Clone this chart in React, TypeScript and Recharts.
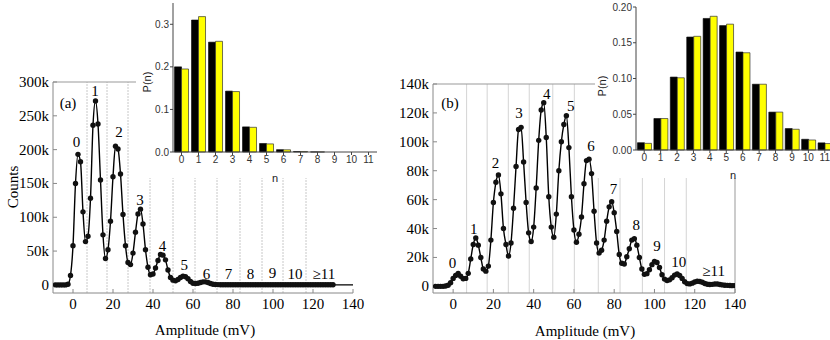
import React from 'react';
import { LineChart, Line, XAxis, YAxis, ReferenceLine, ReferenceDot, BarChart, Bar } from 'recharts';

const SERIF = '"Liberation Serif", "Times New Roman", serif';
const SANS = '"Liberation Sans", Arial, sans-serif';

// amplitude bins (mV), shared by both spectra
const amplitude = [
  -8.75, -7.5, -6.25, -5, -3.75, -2.5, -1.25, 0, 1.25, 2.5, 3.75, 5, 6.25, 7.5, 8.75, 10,
  11.25, 12.5, 13.75, 15, 16.25, 17.5, 18.75, 20, 21.25, 22.5, 23.75, 25, 26.25, 27.5, 28.75, 30,
  31.25, 32.5, 33.75, 35, 36.25, 37.5, 38.75, 40, 41.25, 42.5, 43.75, 45, 46.25, 47.5, 48.75, 50,
  51.25, 52.5, 53.75, 55, 56.25, 57.5, 58.75, 60, 61.25, 62.5, 63.75, 65, 66.25, 67.5, 68.75, 70,
  71.25, 72.5, 73.75, 75, 76.25, 77.5, 78.75, 80, 81.25, 82.5, 83.75, 85, 86.25, 87.5, 88.75, 90,
  91.25, 92.5, 93.75, 95, 96.25, 97.5, 98.75, 100, 101.25, 102.5, 103.75, 105, 106.25, 107.5, 108.75, 110,
  111.25, 112.5, 113.75, 115, 116.25, 117.5, 118.75, 120, 121.25, 122.5, 123.75, 125, 126.25, 127.5, 128.75, 130,
  131.25, 132.5, 133.75, 135, 136.25, 137.5, 138.75, 140,
];

// counts in thousands
const countsA = [
  0, 0, 0, 0, 0, 1, 14, 58, 150, 193, 182, 108, 64, 72, 128, 236,
  272, 238, 155, 74, 39, 52, 94, 160, 205, 201, 164, 104, 58, 33, 30, 47,
  78, 105, 112, 90, 52, 26, 15, 16, 25, 36, 45, 44, 37, 22, 11, 7,
  6, 8, 11, 13, 12, 9, 5, 2.5, 2, 2.5, 3.5, 4.5, 4.5, 3.5, 2, 1,
  0.6, 0.4, 0.3, 0.3, 0.3, 0.3, 0.3, 0.3, 0.3, 0.3, 0.3, 0.3, 0.2, 0.2, 0.2, 0.2,
  0.2, 0.2, 0.2, 0.2, 0.2, 0.2, 0.2, 0.2, 0.2, 0.2, 0.2, 0.2, 0.2, 0.2, 0.1, 0.1,
  0.1, 0.1, 0.1, 0.1, 0.1, 0.1, 0.1, 0.1, 0.1, 0.1, 0.1, 0.1, 0.1, 0.1, 0.1, 0.1,
  0, 0, 0, 0, 0, 0, 0, 0,
];

const countsB = [
  0, 0, 0, 0, 0.2, 0.8, 2.5, 5.5, 7.5, 9, 7, 5.3, 5.5, 9, 19, 29,
  33.5, 28.5, 20, 12, 10.5, 14, 32, 58, 72, 77, 64, 40, 29, 21, 30, 54,
  83, 108.5, 110, 86, 58, 37, 31, 41, 68, 101, 122, 127, 103, 62, 41, 34,
  50, 80, 100, 112, 118, 96, 62, 39, 30.5, 36, 48, 71, 87, 88, 78, 52,
  30, 23, 25, 32, 45, 55, 58.5, 51, 38, 22, 16, 15.5, 20.5, 26, 32, 33,
  28.5, 20, 12, 8.3, 8.8, 11.5, 15, 17.3, 16.5, 13, 8, 5, 4.1, 4.5, 6, 7.8,
  8.5, 7.5, 5.5, 3.2, 1.9, 1.7, 2.2, 3, 3.5, 3.4, 2.8, 2, 1.5, 1.3, 1.4, 1.6,
  1.6, 1.3, 1, 0.8, 0.7, 0.6, 0.5, 0.5,
];

const amplitudeTicks = [0, 20, 40, 60, 80, 100, 120, 140];
const countTicksA = [0, 50, 100, 150, 200, 250, 300];
const countTicksB = [0, 20, 40, 60, 80, 100, 120, 140];

// peak separation lines (mV)
const boundariesA = [7, 17, 27.5, 38.5, 50, 61, 72, 83.5, 94.5, 105, 116.5];
const boundariesB = [6.7, 16.9, 27.4, 37.8, 49.5, 60.2, 72.1, 82.9, 94, 105, 115.8];

const peakText = ['0', '1', '2', '3', '4', '5', '6', '7', '8', '9', '10', '≥11'];
const peakXA = [1.8, 11, 23, 33.5, 44.8, 55.6, 66.8, 77.7, 88.8, 99.8, 111, 125.4];
const peakYA = [212, 286, 226, 126, 57, 30, 16, 16, 16, 17, 16, 16];
const peakXB = [-0.3, 10.3, 21.1, 32.7, 46.5, 58.4, 68.5, 79.6, 90.9, 101.2, 112, 129.4];
const peakYB = [16.2, 39.6, 85.6, 119.7, 132.9, 124.8, 97.2, 67.3, 42.6, 27.6, 16.6, 10.4];

// photon number distributions
const photonN = ['0', '1', '2', '3', '4', '5', '6', '7', '8', '9', '10', '11'];
const pBlackA = [0.2, 0.31, 0.258, 0.143, 0.059, 0.02, 0.0055, 0.0012, 0.0002, 0, 0, 0];
const pYellowA = [0.195, 0.318, 0.26, 0.142, 0.058, 0.019, 0.0052, 0.0012, 0.0002, 0, 0, 0];
const pBlackB = [0.0102, 0.044, 0.102, 0.158, 0.184, 0.174, 0.137, 0.092, 0.053, 0.03, 0.015, 0.01];
const pYellowB = [0.0093, 0.044, 0.101, 0.159, 0.187, 0.176, 0.136, 0.092, 0.053, 0.029, 0.014, 0.009];
const pTicksA = [0, 0.1, 0.2, 0.3];
const pTicksB = [0, 0.05, 0.1, 0.15, 0.2];

const kFormat = (v: number) => (v === 0 ? '0' : `${v}k`);

const XTick = (props: any) => {
  const { x, y, payload } = props;
  return (
    <text x={x} y={y} dy={12} textAnchor="middle" fontFamily={SERIF} fontSize={15} fill="#000">
      {payload.value}
    </text>
  );
};

const YTick = (props: any) => {
  const { x, y, payload } = props;
  return (
    <text x={x} y={y} dy={5} textAnchor="end" fontFamily={SERIF} fontSize={15} fill="#000">
      {kFormat(payload.value)}
    </text>
  );
};

interface SpectrumProps {
  counts: number[];
  width: number;
  margin: { top: number; right: number; bottom: number; left: number };
  yDomain: [number, number];
  yTicks: number[];
  boundaries: number[];
  gridColor: string;
  gridDash?: string;
  peakX: number[];
  peakY: number[];
  markUpTo: number;
  rightFrame: boolean;
}

const SpectrumChart = ({ counts, width, margin, yDomain, yTicks, boundaries, gridColor, gridDash, peakX, peakY, markUpTo, rightFrame }: SpectrumProps) => {
  const data = amplitude.map((a, i) => ({ amp: a, cnt: counts[i] }));
  const renderDot = (props: any) => {
    const { cx, cy, payload, index } = props;
    if (payload.amp > markUpTo) return <g key={`d-${index}`} />;
    return <circle key={`d-${index}`} cx={cx} cy={cy} r={2.7} fill="#111" />;
  };
  return (
    <LineChart width={width} height={340} data={data} margin={margin}>
      {boundaries.map((b) => (
        <ReferenceLine key={`b-${b}`} x={b} stroke={gridColor} strokeDasharray={gridDash} />
      ))}
      <ReferenceLine y={yDomain[1]} stroke="#999" />
      {rightFrame && <ReferenceLine x={140} stroke="#999" />}
      <XAxis
        dataKey="amp"
        type="number"
        domain={[-10, 140]}
        ticks={amplitudeTicks}
        allowDataOverflow
        height={30}
        stroke="#888"
        tickSize={-4}
        tickMargin={8}
        tick={XTick}
      />
      <YAxis
        type="number"
        domain={yDomain}
        ticks={yTicks}
        allowDataOverflow
        width={45}
        stroke="#888"
        tickSize={-4}
        tickMargin={8}
        tick={YTick}
      />
      <Line
        dataKey="cnt"
        type="monotone"
        stroke="#000"
        strokeWidth={1.4}
        dot={renderDot}
        isAnimationActive={false}
      />
      {peakText.map((t, i) => (
        <ReferenceDot
          key={`p-${i}`}
          x={peakX[i]}
          y={peakY[i]}
          r={1}
          shape={(p: any) => (
            <text x={p.cx} y={p.cy} dy={5} textAnchor="middle" fontFamily={SERIF} fontSize={15} fill="#000">
              {t}
            </text>
          )}
        />
      ))}
    </LineChart>
  );
};

interface InsetProps {
  black: number[];
  yellow: number[];
  width: number;
  margin: { top: number; right: number; bottom: number; left: number };
  yDomain: [number, number];
  yTicks: number[];
  digits: number;
}

const InsetChart = ({ black, yellow, width, margin, yDomain, yTicks, digits }: InsetProps) => {
  const data = photonN.map((n, i) => ({ n, black: black[i], yellow: yellow[i] }));
  return (
    <BarChart width={width} height={178} data={data} margin={margin} barGap={0} barCategoryGap="9%">
      <XAxis
        dataKey="n"
        interval={0}
        height={20}
        stroke="#444"
        tickSize={3}
        tickMargin={1}
        tick={{ fill: '#333', fontSize: 10, fontFamily: SANS }}
      />
      <YAxis
        type="number"
        domain={yDomain}
        ticks={yTicks}
        width={30}
        stroke="#444"
        tickSize={3}
        tickMargin={1}
        tickFormatter={(v: number) => v.toFixed(digits)}
        tick={{ fill: '#333', fontSize: 10, fontFamily: SANS }}
      />
      <Bar dataKey="black" fill="#000" stroke="#000" strokeWidth={0.6} isAnimationActive={false} />
      <Bar dataKey="yellow" fill="#ffff00" stroke="#333" strokeWidth={0.7} isAnimationActive={false} />
    </BarChart>
  );
};

const App = () => {
  return (
    <div style={{ position: 'absolute', left: 0, top: 0, width: 830, height: 340, overflow: 'hidden', background: '#fff' }}>
      <div style={{ position: 'absolute', left: 0, top: 0 }}>
        <SpectrumChart
          counts={countsA}
          width={420}
          margin={{ top: 82, right: 67, bottom: 17, left: 8 }}
          yDomain={[-12, 300]}
          yTicks={countTicksA}
          boundaries={boundariesA}
          gridColor="#c8c8c8"
          gridDash="2 1"
          peakX={peakXA}
          peakY={peakYA}
          markUpTo={130}
          rightFrame={false}
        />
      </div>
      <div style={{ position: 'absolute', left: 380, top: 0 }}>
        <SpectrumChart
          counts={countsB}
          width={450}
          margin={{ top: 84, right: 95, bottom: 17, left: 8 }}
          yDomain={[-4.6, 140]}
          yTicks={countTicksB}
          boundaries={boundariesB}
          gridColor="#d4d4d4"
          peakX={peakXB}
          peakY={peakYB}
          markUpTo={140}
          rightFrame={true}
        />
      </div>
      <div style={{ position: 'absolute', left: 136, top: 0, width: 264, height: 178, background: '#fff' }}>
        <InsetChart
          black={pBlackA}
          yellow={pYellowA}
          width={250}
          margin={{ top: 3, right: 9, bottom: 6, left: 7 }}
          yDomain={[0, 0.35]}
          yTicks={pTicksA}
          digits={1}
        />
      </div>
      <div style={{ position: 'absolute', left: 595, top: 0, width: 235, height: 178, background: '#fff', overflow: 'hidden' }}>
        <InsetChart
          black={pBlackB}
          yellow={pYellowB}
          width={240}
          margin={{ top: 7, right: 2, bottom: 8, left: 11 }}
          yDomain={[0, 0.2]}
          yTicks={pTicksB}
          digits={2}
        />
      </div>
      <svg width={830} height={340} style={{ position: 'absolute', left: 0, top: 0, pointerEvents: 'none' }}>
        <text x={13} y={187} transform="rotate(-90 13 187)" textAnchor="middle" dominantBaseline="central" fontFamily={SERIF} fontSize={15}>Counts</text>
        <text x={205} y={330} textAnchor="middle" dominantBaseline="central" fontFamily={SERIF} fontSize={15}>Amplitude (mV)</text>
        <text x={585} y={331} textAnchor="middle" dominantBaseline="central" fontFamily={SERIF} fontSize={15}>Amplitude (mV)</text>
        <text x={68} y={103} textAnchor="middle" dominantBaseline="central" fontFamily={SERIF} fontSize={15}>(a)</text>
        <text x={450} y={103} textAnchor="middle" dominantBaseline="central" fontFamily={SERIF} fontSize={15}>(b)</text>
        <text x={147} y={82} transform="rotate(-90 147 82)" textAnchor="middle" dominantBaseline="central" fontFamily={SANS} fontSize={11} fill="#222">P(n)</text>
        <text x={602} y={86} transform="rotate(-90 602 86)" textAnchor="middle" dominantBaseline="central" fontFamily={SANS} fontSize={11} fill="#222">P(n)</text>
        <text x={275} y={178} textAnchor="middle" dominantBaseline="central" fontFamily={SANS} fontSize={11} fill="#222">n</text>
        <text x={733} y={175} textAnchor="middle" dominantBaseline="central" fontFamily={SANS} fontSize={11} fill="#222">n</text>
      </svg>
    </div>
  );
};

export default App;
